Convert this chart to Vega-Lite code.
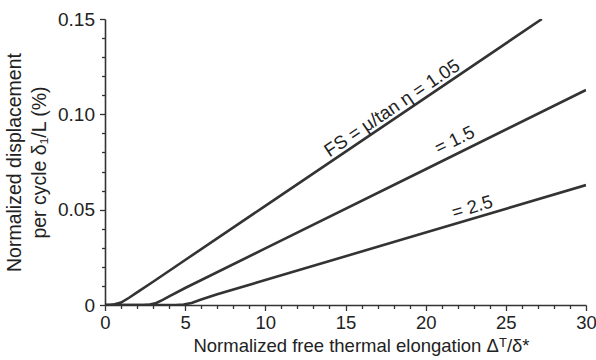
{
  "$schema": "https://vega.github.io/schema/vega-lite/v6.json",
  "width": 481,
  "height": 286,
  "autosize": {"type": "none"},
  "padding": {"left": 105, "top": 19, "right": 10, "bottom": 55},
  "background": "white",
  "config": {
    "view": {"stroke": null},
    "font": "Liberation Sans",
    "axis": {"grid": false, "domainColor": "#333", "domainWidth": 1.6, "tickColor": "#333", "tickWidth": 1.3, "labelColor": "#222", "titleColor": "#222", "labelFontSize": 18.5, "titleFontWeight": "normal", "labelFont": "Liberation Sans", "titleFont": "Liberation Sans", "labelOverlap": false, "labelFlush": false}
  },
  "datasets": {
    "curves": [
      {"fs": "1.05", "x": 0, "y": 0}, {"fs": "1.05", "x": 0.3, "y": 0}, {"fs": "1.05", "x": 0.6, "y": 0.0004}, {"fs": "1.05", "x": 1.0, "y": 0.0013}, {"fs": "1.05", "x": 1.5, "y": 0.0038}, {"fs": "1.05", "x": 2, "y": 0.0066}, {"fs": "1.05", "x": 3, "y": 0.0122}, {"fs": "1.05", "x": 5, "y": 0.0236}, {"fs": "1.05", "x": 10, "y": 0.052}, {"fs": "1.05", "x": 20, "y": 0.1088}, {"fs": "1.05", "x": 27.25, "y": 0.15},
      {"fs": "1.5", "x": 0, "y": 0}, {"fs": "1.5", "x": 2.4, "y": 0}, {"fs": "1.5", "x": 2.8, "y": 0.0003}, {"fs": "1.5", "x": 3.2, "y": 0.0011}, {"fs": "1.5", "x": 3.6, "y": 0.0027}, {"fs": "1.5", "x": 4, "y": 0.0045}, {"fs": "1.5", "x": 5, "y": 0.0089}, {"fs": "1.5", "x": 10, "y": 0.0297}, {"fs": "1.5", "x": 20, "y": 0.0712}, {"fs": "1.5", "x": 30, "y": 0.1128},
      {"fs": "2.5", "x": 0, "y": 0}, {"fs": "2.5", "x": 4.4, "y": 0}, {"fs": "2.5", "x": 4.9, "y": 0.0002}, {"fs": "2.5", "x": 5.4, "y": 0.0011}, {"fs": "2.5", "x": 6, "y": 0.0029}, {"fs": "2.5", "x": 7, "y": 0.0056}, {"fs": "2.5", "x": 10, "y": 0.0131}, {"fs": "2.5", "x": 20, "y": 0.038}, {"fs": "2.5", "x": 30, "y": 0.0629}
    ]
  },
  "layer": [
    {
      "data": {"name": "curves"},
      "mark": {"type": "line", "color": "#333", "strokeWidth": 2.6, "clip": true},
      "encoding": {
        "x": {"field": "x", "type": "quantitative", "scale": {"domain": [0, 30], "nice": false},
          "axis": {"orient": "bottom", "tickCount": 100, "values": [0,1,2,3,4,5,6,7,8,9,10,11,12,13,14,15,16,17,18,19,20,21,22,23,24,25,26,27,28,29,30],
            "labelExpr": "datum.value % 5 == 0 ? format(datum.value, 'd') : ''",
            "tickSize": {"condition": {"test": "datum.value % 5 == 0", "value": 5.5}, "value": 3.5},
            "labelPadding": 3, "title": "Normalized free thermal elongation Δᵀ/δ*", "titleFontSize": 18.5, "titleX": 256, "titleAlign": "center", "titlePadding": 4}},
        "y": {"field": "y", "type": "quantitative", "scale": {"domain": [0, 0.15], "nice": false},
          "axis": {"orient": "left", "tickCount": 100, "values": [0,0.01,0.02,0.03,0.04,0.05,0.06,0.07,0.08,0.09,0.1,0.11,0.12,0.13,0.14,0.15],
            "labelExpr": "round(datum.value * 100) % 5 == 0 ? (datum.value == 0 ? '0' : format(datum.value, '.2f')) : ''",
            "tickSize": {"condition": {"test": "round(datum.value * 100) % 5 == 0", "value": 5.5}, "value": 3.5},
            "labelPadding": 5, "labelFontSize": 19, "title": ["Normalized displacement", "per cycle  δ₁/L (%)"], "titleFontSize": 19.5, "titleLineHeight": 25, "titlePadding": 8}},
        "detail": {"field": "fs", "type": "nominal"}
      }
    },
    {
      "data": {"values": [{"x": 17.9, "y": 0.1033, "label": "FS = μ/tan η = 1.05"}]},
      "mark": {"type": "text", "angle": -34, "fontSize": 18.5, "color": "#222", "align": "center", "baseline": "middle"},
      "encoding": {"x": {"field": "x", "type": "quantitative"}, "y": {"field": "y", "type": "quantitative"}, "text": {"field": "label"}}
    },
    {
      "data": {"values": [{"x": 21.8, "y": 0.0865, "label": "= 1.5"}]},
      "mark": {"type": "text", "angle": -26, "fontSize": 18.5, "color": "#222", "align": "center", "baseline": "middle"},
      "encoding": {"x": {"field": "x", "type": "quantitative"}, "y": {"field": "y", "type": "quantitative"}, "text": {"field": "label"}}
    },
    {
      "data": {"values": [{"x": 22.9, "y": 0.0514, "label": "= 2.5"}]},
      "mark": {"type": "text", "angle": -16.5, "fontSize": 18.5, "color": "#222", "align": "center", "baseline": "middle"},
      "encoding": {"x": {"field": "x", "type": "quantitative"}, "y": {"field": "y", "type": "quantitative"}, "text": {"field": "label"}}
    }
  ]
}
